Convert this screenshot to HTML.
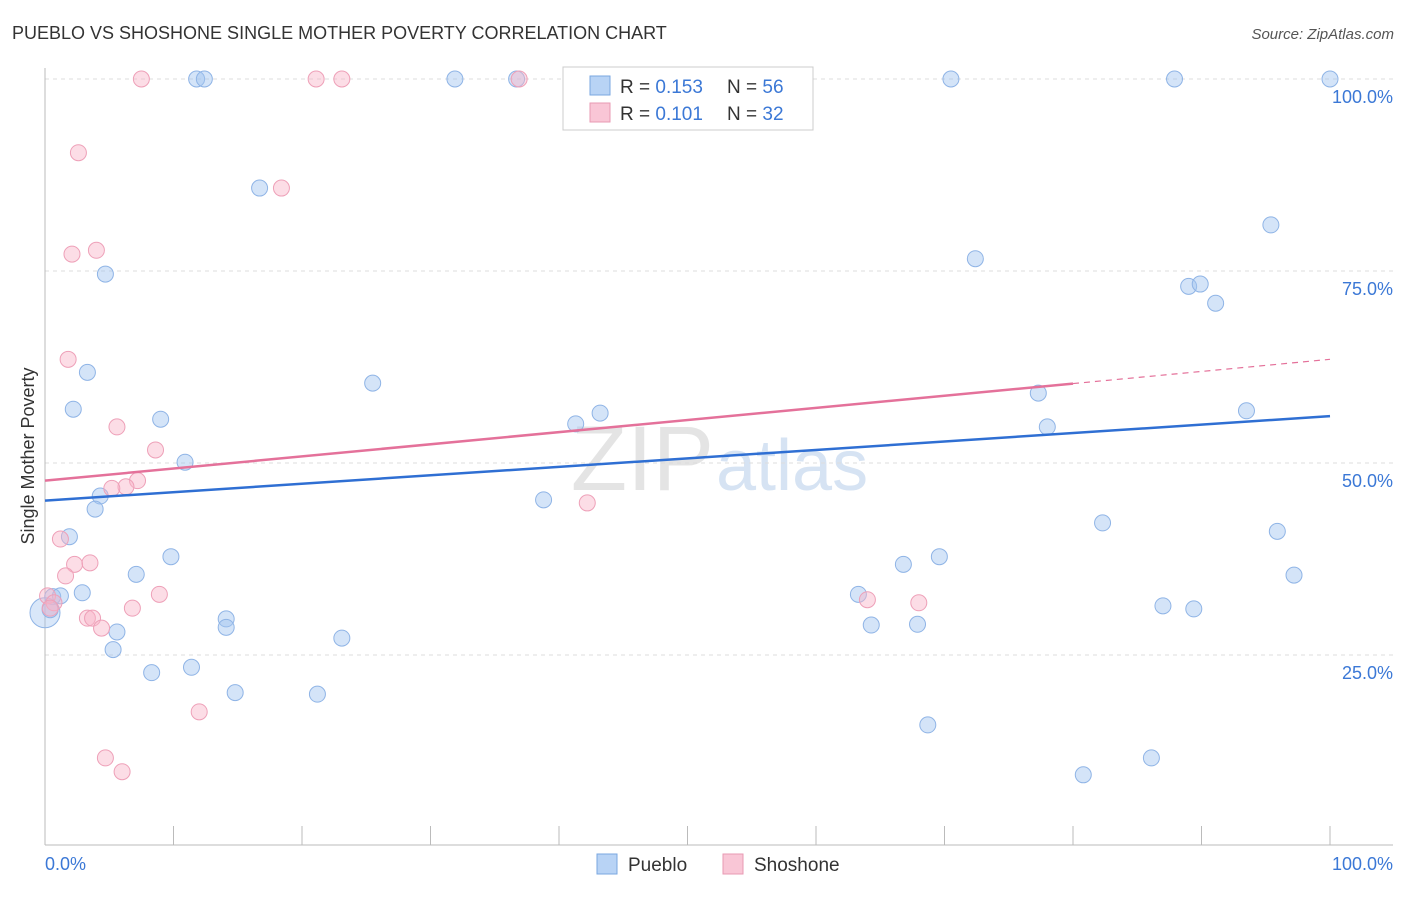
<!DOCTYPE html>
<html><head><meta charset="utf-8"><style>
body{margin:0;background:#fff;font-family:"Liberation Sans",sans-serif;}
svg text{font-family:"Liberation Sans",sans-serif;}
</style></head><body>
<svg id="chart" width="1406" height="892">
<text x="12" y="39" font-size="18" fill="#333">PUEBLO VS SHOSHONE SINGLE MOTHER POVERTY CORRELATION CHART</text>
<text x="1394" y="39" font-size="15" fill="#555" font-style="italic" text-anchor="end">Source: ZipAtlas.com</text>
<text x="34" y="456" font-size="18" fill="#333" transform="rotate(-90 34 456)" text-anchor="middle">Single Mother Poverty</text>
<text x="714" y="490" font-size="92" fill="#e4e4e4" text-anchor="end" font-family="Liberation Serif">ZIP</text>
<text x="716" y="490" font-size="72" fill="#d6e3f3">atlas</text>
<g id="grid"></g><g id="marks"></g>
<g>
<rect x="563" y="67" width="250" height="63" fill="#fff" stroke="#ccc"/>
<rect x="590" y="76" width="20" height="19" fill="#b8d3f5" stroke="#7aa7e0"/>
<rect x="590" y="103" width="20" height="19" fill="#f9c6d6" stroke="#e89ab3"/>
<text x="620" y="93" font-size="19" fill="#333">R = <tspan fill="#3b78d6">0.153</tspan></text>
<text x="727" y="93" font-size="19" fill="#333">N = <tspan fill="#3b78d6">56</tspan></text>
<text x="620" y="120" font-size="19" fill="#333">R = <tspan fill="#3b78d6">0.101</tspan></text>
<text x="727" y="120" font-size="19" fill="#333">N = <tspan fill="#3b78d6">32</tspan></text>
</g>
<g>
<rect x="597" y="854" width="20" height="20" fill="#b8d3f5" stroke="#7aa7e0"/>
<text x="628" y="871" font-size="19" fill="#333">Pueblo</text>
<rect x="723" y="854" width="20" height="20" fill="#f9c6d6" stroke="#e89ab3"/>
<text x="754" y="871" font-size="19" fill="#333">Shoshone</text>
</g>
</svg>
<script>
const yTicks=[25,50,75,100];
const yTickLabels=["25.0%","50.0%","75.0%","100.0%"];
const xTickLabels=["0.0%","100.0%"];
const puebloX=[11.8,12.4,31.9,36.7,70.5,87.9,100,16.7,4.7,3.3,25.5,2.2,9.0,41.3,43.2,10.9,4.3,3.9,38.8,1.9,9.8,7.1,2.9,0.6,1.2,0.4,5.6,5.3,14.1,14.1,23.1,8.3,11.4,14.8,21.2,72.4,95.4,89.0,89.9,91.1,77.3,78.0,93.5,82.3,95.9,97.2,69.6,66.8,63.3,64.3,67.9,87.0,89.4,68.7,80.8,86.1];
const puebloY=[100,100,100,100,100,100,100,85.8,74.6,61.8,60.4,57.0,55.7,55.1,56.5,50.1,45.7,44.0,45.2,40.4,37.8,35.5,33.1,32.6,32.7,30.9,28.0,25.7,29.7,28.6,27.2,22.7,23.4,20.1,19.9,76.6,81.0,73.0,73.3,70.8,59.1,54.7,56.8,42.2,41.1,35.4,37.8,36.8,32.9,28.9,29.0,31.4,31.0,15.9,9.4,11.6];
const shoshoneX=[7.5,21.1,23.1,36.9,2.6,18.4,2.1,4.0,1.8,5.6,8.6,7.2,6.3,5.2,1.2,2.3,3.5,1.6,0.2,0.7,0.4,3.3,3.7,4.4,6.8,8.9,42.2,12.0,4.7,6.0,64.0,68.0];
const shoshoneY=[100,100,100,100,90.4,85.8,77.2,77.7,63.5,54.7,51.7,47.7,46.9,46.7,40.1,36.8,37.0,35.3,32.7,31.8,31.1,29.8,29.8,28.5,31.1,32.9,44.8,17.6,11.6,9.8,32.2,31.8];
const puebloTrend=[45.1,56.1];
const shoshoneTrend=[47.7,63.5];
const NS="http://www.w3.org/2000/svg";
const xs=v=>45+v*12.85, ys=v=>847-v*7.68;
function mk(t,a,p){const e=document.createElementNS(NS,t);for(const k in a)e.setAttribute(k,a[k]);p.appendChild(e);return e;}
const grid=document.getElementById('grid'), marks=document.getElementById('marks');
yTicks.forEach((t,i)=>{
 const l=mk('line',{x1:45,x2:1393,y1:ys(t),y2:ys(t),stroke:'#ddd','stroke-dasharray':'4,4'},grid);
 
 
 const tx=mk('text',{x:1393,y:ys(t)+24,'font-size':18,fill:'#3b78d6','text-anchor':'end'},grid);
 tx.textContent=yTickLabels[i];
 
 
});
const ax=mk('line',{x1:45,x2:1393,y1:845,y2:845,stroke:'#bbb'},grid);


const ay=mk('line',{x1:45,x2:45,y1:68,y2:845,stroke:'#bbb'},grid);


for(let i=0;i<=10;i++){
 const t=mk('line',{x1:xs(i*10),x2:xs(i*10),y1:826,y2:845,stroke:'#bbb'},grid);
 
 
}
[[0,'start',45],[1,'end',1393]].forEach(([i,a,x])=>{
 const tx=mk('text',{x:x,y:870,'font-size':18,fill:'#3b78d6','text-anchor':a},grid);
 tx.textContent=xTickLabels[i];
 
 
});
const big=mk('circle',{cx:xs(0),cy:ys(30.5),r:15,fill:'rgba(160,195,240,0.4)',stroke:'#8fb4e6'},marks);


puebloX.forEach((x,i)=>{
 const c=mk('circle',{cx:xs(x),cy:ys(puebloY[i]),r:8,fill:'rgba(160,195,240,0.45)',stroke:'#8fb4e6'},marks);
 
 
});
shoshoneX.forEach((x,i)=>{
 const c=mk('circle',{cx:xs(x),cy:ys(shoshoneY[i]),r:8,fill:'rgba(248,180,200,0.45)',stroke:'#eea0b8'},marks);
 
 
});
const tb=mk('line',{x1:xs(0),y1:ys(puebloTrend[0]),x2:xs(100),y2:ys(puebloTrend[1]),stroke:'#2f6fd3','stroke-width':2.5},marks);


const f=0.8, ym=shoshoneTrend[0]+(shoshoneTrend[1]-shoshoneTrend[0])*f;
const tp=mk('line',{x1:xs(0),y1:ys(shoshoneTrend[0]),x2:xs(f*100),y2:ys(ym),stroke:'#e4719a','stroke-width':2.5},marks);


const td=mk('line',{x1:xs(f*100),y1:ys(ym),x2:xs(100),y2:ys(shoshoneTrend[1]),stroke:'#e4719a','stroke-width':1.2,'stroke-dasharray':'6,5'},marks);


</script>
</body></html>
